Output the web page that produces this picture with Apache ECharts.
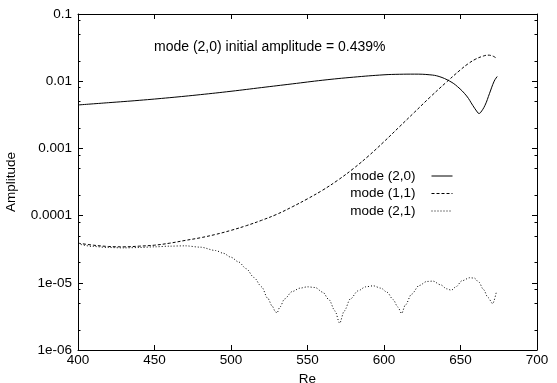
<!DOCTYPE html>
<html><head><meta charset="utf-8">
<script src="https://cdn.jsdelivr.net/npm/echarts@6/dist/echarts.min.js"></script>
<style>html,body{margin:0;padding:0;background:#fff}#c{width:557px;height:383px}</style>
</head><body><div id="c"></div>
<script>
// Mode (2,0) — solid
const mode20Re  = [400,420,440,460,480,500,520,540,560,580,600,610,620,630,636,643,648,654,658,661,662,663,666,669,672,674];
const mode20Amp = [4.43e-3,4.79e-3,5.19e-3,5.69e-3,6.31e-3,7.08e-3,8.04e-3,9.12e-3,1.035e-2,1.148e-2,1.245e-2,1.268e-2,1.274e-2,1.245e-2,1.175e-2,1.0e-2,8.32e-3,6.03e-3,4.37e-3,3.47e-3,3.31e-3,3.39e-3,4.37e-3,6.61e-3,1.0e-2,1.175e-2];
// Mode (1,1) — dashed
const mode11Re  = [400,410,420,430,440,450,460,470,480,490,500,510,520,530,540,550,560,570,580,590,600,610,620,630,640,650,655,660,665,668,671,673];
const mode11Amp = [3.89e-5,3.63e-5,3.47e-5,3.43e-5,3.51e-5,3.63e-5,3.89e-5,4.27e-5,4.68e-5,5.25e-5,6.03e-5,7.08e-5,8.51e-5,1.047e-4,1.349e-4,1.778e-4,2.399e-4,3.388e-4,5.01e-4,7.76e-4,1.259e-3,2.089e-3,3.467e-3,5.754e-3,9.33e-3,1.479e-2,1.82e-2,2.138e-2,2.371e-2,2.443e-2,2.371e-2,2.239e-2];
// Mode (2,1) — dotted
const mode21Re  = [400,410,420,430,440,450,460,470,480,490,495,500,505,510,515,520,524,527,529,530,532,535,540,545,550,555,560,564,568,571,574,578,583,588,593,598,602,606,609,611.5,614,618,623,628,632,637,641,644,647,651,656,659,662,665,668,671,673.5];
const mode21Amp = [3.80e-5,3.47e-5,3.35e-5,3.31e-5,3.35e-5,3.43e-5,3.51e-5,3.55e-5,3.39e-5,3.02e-5,2.75e-5,2.40e-5,2.04e-5,1.62e-5,1.20e-5,8.71e-6,5.89e-6,4.47e-6,3.72e-6,3.55e-6,4.37e-6,5.75e-6,7.41e-6,8.32e-6,8.71e-6,8.51e-6,7.24e-6,5.62e-6,3.80e-6,2.51e-6,3.80e-6,5.75e-6,7.59e-6,8.71e-6,9.02e-6,8.32e-6,7.24e-6,5.62e-6,4.37e-6,3.51e-6,4.68e-6,6.76e-6,9.12e-6,1.047e-5,1.059e-5,9.33e-6,8.13e-6,7.76e-6,8.71e-6,1.072e-5,1.189e-5,1.175e-5,1.023e-5,7.94e-6,6.03e-6,4.90e-6,7.41e-6];

const seriesNames = ['mode (2,0)','mode (1,1)','mode (2,1)'];
const yTickValues = [1e-6,1e-5,1e-4,1e-3,1e-2,1e-1];
const yTickLabels = ['1e-06','1e-05','0.0001','0.001','0.01','0.1'];
const yMinorTicks = [2e-6,5e-6,8e-6,2e-5,5e-5,8e-5,2e-4,5e-4,8e-4,2e-3,5e-3,8e-3,2e-2,5e-2,8e-2];
const annotation = 'mode (2,0) initial amplitude = 0.439%';

const FONT = 'Liberation Sans, Arial, Helvetica, sans-serif';
const FS = 13.5;
const pairs = (xs, ys) => xs.map((x, i) => [x, ys[i]]);
const yLabel = v => {
  const e = Math.round(Math.log10(v));
  const i = yTickValues.findIndex(t => Math.round(Math.log10(t)) === e);
  return i >= 0 ? yTickLabels[i] : '';
};

const baseY = {
  type: 'log', logBase: 10, min: 1e-6, max: 0.1,
  splitLine: { show: false }
};
const axisLineStyle = { color: '#000', width: 1 };

const chart = echarts.init(document.getElementById('c'), null, { renderer: 'canvas' });
chart.setOption({
  animation: false,
  backgroundColor: '#fff',
  textStyle: { fontFamily: FONT },
  grid: { left: 78, right: 20, top: 14, bottom: 33, containLabel: false, outerBoundsMode: 'none' },
  xAxis: [
    {
      type: 'value', min: 400, max: 700, interval: 50, position: 'bottom',
      axisLine: { show: true, onZero: false, lineStyle: axisLineStyle },
      axisTick: { show: true, inside: true, length: 5, lineStyle: axisLineStyle },
      axisLabel: { show: true, color: '#000', fontSize: FS, fontFamily: FONT, margin: 3 },
      splitLine: { show: false },
      name: 'Re', nameLocation: 'middle', nameGap: 20,
      nameTextStyle: { color: '#000', fontSize: FS, fontFamily: FONT }
    },
    {
      type: 'value', min: 400, max: 700, interval: 50, position: 'top',
      axisLine: { show: true, onZero: false, lineStyle: axisLineStyle },
      axisTick: { show: true, inside: true, length: 5, lineStyle: axisLineStyle },
      axisLabel: { show: false },
      splitLine: { show: false }
    }
  ],
  yAxis: [
    Object.assign({}, baseY, {
      position: 'left',
      axisLine: { show: true, onZero: false, lineStyle: axisLineStyle },
      axisTick: { show: true, inside: true, length: 5, lineStyle: axisLineStyle },
      axisLabel: { show: true, color: '#000', fontSize: FS, fontFamily: FONT, margin: 6, formatter: yLabel },
      name: 'Amplitude', nameLocation: 'middle', nameGap: 60,
      nameTextStyle: { color: '#000', fontSize: FS, fontFamily: FONT }
    }),
    Object.assign({}, baseY, {
      position: 'left',
      axisLine: { show: false },
      axisTick: { show: true, inside: true, length: 2.5, lineStyle: axisLineStyle, customValues: yMinorTicks },
      axisLabel: { show: false }
    }),
    Object.assign({}, baseY, {
      position: 'right',
      axisLine: { show: true, onZero: false, lineStyle: axisLineStyle },
      axisTick: { show: true, inside: true, length: 5, lineStyle: axisLineStyle },
      axisLabel: { show: false }
    }),
    Object.assign({}, baseY, {
      position: 'right',
      axisLine: { show: false },
      axisTick: { show: true, inside: true, length: 2.5, lineStyle: axisLineStyle, customValues: yMinorTicks },
      axisLabel: { show: false }
    })
  ],
  legend: {
    orient: 'vertical', right: 99, top: 164, align: 'right',
    itemWidth: 21, itemHeight: 12, itemGap: 3.5,
    itemStyle: { opacity: 0, color: 'rgba(0,0,0,0)', borderWidth: 0 },
    lineStyle: { width: 1 },
    textStyle: { color: '#000', fontSize: FS, fontFamily: FONT, padding: [0, 11, 0, 0] },
    data: seriesNames
  },
  graphic: [
    { type: 'text', left: 154, top: 40, style: { text: annotation, fill: '#000', font: '14px ' + FONT } }
  ],
  series: [
    { name: seriesNames[0], type: 'line', data: pairs(mode20Re, mode20Amp), symbol: 'none', smooth: 0.4,
      lineStyle: { color: '#000', width: 1, type: 'solid' }, itemStyle: { color: '#000' } },
    { name: seriesNames[1], type: 'line', data: pairs(mode11Re, mode11Amp), symbol: 'none', smooth: 0.4,
      lineStyle: { color: '#000', width: 1, type: [3, 2] }, itemStyle: { color: '#000' } },
    { name: seriesNames[2], type: 'line', data: pairs(mode21Re, mode21Amp), symbol: 'none', smooth: 0.3, smoothMonotone: 'x',
      lineStyle: { color: '#000', width: 1, type: [1, 2] }, itemStyle: { color: '#000' } }
  ]
});
</script>
</body></html>
